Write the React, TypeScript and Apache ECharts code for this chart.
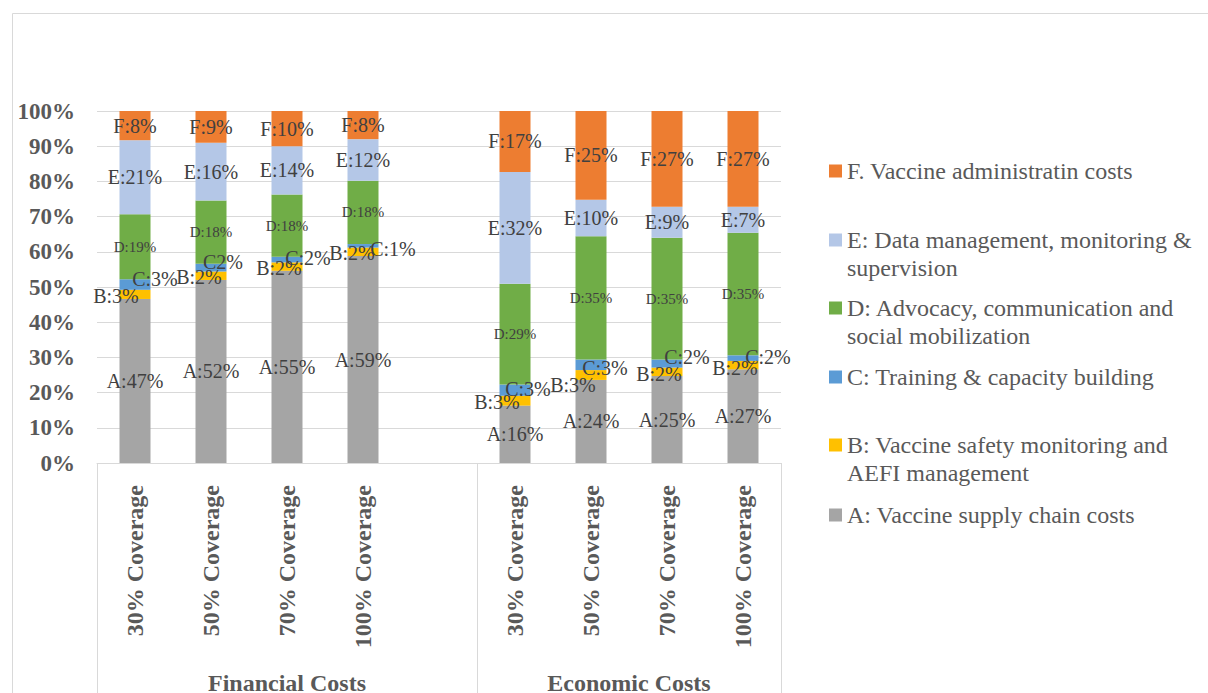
import React, { useEffect, useRef } from 'react';
import * as echarts from 'echarts';

// ---- data ----
const coverageLabels = ['30% Coverage', '50% Coverage', '70% Coverage', '100% Coverage', '', '30% Coverage', '50% Coverage', '70% Coverage', '100% Coverage'];
const groupKeys = ['fin', 'fin', 'fin', 'fin', 'gap', 'eco', 'eco', 'eco', 'eco'];
const groupLabels = ['Financial Costs', 'Economic Costs'];
const groupCenters = [2.5, 7];
const groupEdges = [0, 5, 9];

const seriesA = [46.6, 52.0, 54.6, 58.8, null, 16.3, 23.6, 24.7, 26.6];
const seriesB = [2.6, 2.4, 2.4, 2.4, null, 2.8, 2.8, 2.4, 2.4];
const seriesC = [3.0, 2.2, 1.6, 1.0, null, 3.2, 3.0, 2.3, 1.6];
const seriesD = [18.5, 18.0, 17.7, 18.0, null, 28.6, 35.0, 34.6, 34.8];
const seriesE = [21.0, 16.4, 13.7, 11.8, null, 31.8, 10.4, 8.8, 7.4];
const seriesF = [8.3, 9.0, 10.0, 8.0, null, 17.3, 25.2, 27.2, 27.2];

const seriesNames = [
  'A: Vaccine supply chain costs',
  'B: Vaccine safety monitoring and AEFI management',
  'C: Training & capacity building',
  'D: Advocacy, communication and social mobilization',
  'E: Data management, monitoring & supervision',
  'F. Vaccine administratin costs',
];
const seriesLetters = ['A', 'B', 'C', 'D', 'E', 'F'];
const legendText: Record<string, string> = {
  'A: Vaccine supply chain costs': 'A: Vaccine supply chain costs',
  'B: Vaccine safety monitoring and AEFI management': '\nB: Vaccine safety monitoring and\nAEFI management',
  'C: Training & capacity building': 'C: Training & capacity building',
  'D: Advocacy, communication and social mobilization': '\nD: Advocacy, communication and\nsocial mobilization',
  'E: Data management, monitoring & supervision': '\nE: Data management, monitoring &\nsupervision',
  'F. Vaccine administratin costs': 'F. Vaccine administratin costs',
};
const labelOverrides: Record<string, string> = { 'C-1': 'C2%' };

// label nudges (px) for the thin B and C segments
const bLabelShift = [[-19, 2], [-12, 1], [-8, 1], [-11, 1], [0, 0], [-18, 1], [-18, 10], [-8, 2], [-8, 3]];
const cLabelShift = [[20, -6], [12, -6], [21, -2], [30, 3], [0, 0], [13, -1], [14, 3], [20, -7], [25, -1]];

const colors = ['#A5A5A5', '#FFC000', '#5B9BD5', '#70AD47', '#B4C7E7', '#ED7D31'];

const FONT = '"Liberation Serif", "Times New Roman", serif';

export default function App() {
  const ref = useRef<HTMLDivElement>(null);
  useEffect(() => {
    if (!ref.current) return;
    const chart = echarts.init(ref.current, undefined, { renderer: 'svg' });
    const allValues = [seriesA, seriesB, seriesC, seriesD, seriesE, seriesF];
    const shifts: Record<number, number[][]> = { 1: bLabelShift, 2: cLabelShift };

    const series = allValues.map((vals, si) => ({
      name: seriesNames[si],
      type: 'bar',
      stack: 'total',
      barWidth: 31,
      itemStyle: { color: colors[si] },
      label: {
        show: true,
        position: 'inside',
        color: '#404040',
        fontFamily: FONT,
        fontSize: si === 3 ? 15 : 20,
        formatter: (p: any) => {
          const key = `${seriesLetters[si]}-${p.dataIndex}`;
          if (labelOverrides[key]) return labelOverrides[key];
          return `${seriesLetters[si]}:${Math.round(p.value)}%`;
        },
      },
      data: vals.map((v, i) => {
        if (v == null) return '-';
        const s = shifts[si];
        return s ? { value: v, label: { offset: s[i] } } : { value: v };
      }),
    }));

    const legendTops = [501, 403, 363, 266, 198, 157];
    const legends = seriesNames.map((name, i) => ({
      data: [name],
      left: 829,
      top: legendTops[i],
      padding: 0,
      icon: 'rect',
      itemWidth: 13,
      itemHeight: 13,
      selectedMode: false,
      formatter: (n: string) => legendText[n],
      textStyle: { fontFamily: FONT, fontSize: 24, color: '#595959', lineHeight: 28 },
    }));

    chart.setOption({
      animation: false,
      backgroundColor: '#ffffff',
      graphic: [
        {
          type: 'rect',
          shape: { x: 12.5, y: 13.5, width: 1400, height: 900 },
          style: { fill: 'none', stroke: '#d9d9d9', lineWidth: 1 },
          silent: true,
          z: -10,
        },
      ],
      grid: { left: 97, right: 427, top: 111, bottom: 230, containLabel: false, outerBoundsMode: 'none' },
      legend: legends,
      xAxis: [
        {
          type: 'category',
          data: coverageLabels.map((c, i) => `${groupKeys[i]}|${c}`),
          axisLine: { show: true, lineStyle: { color: '#d9d9d9', width: 1 } },
          axisTick: { show: false },
          axisLabel: {
            interval: 0,
            rotate: 90,
            margin: 22,
            fontFamily: FONT,
            fontSize: 24,
            fontWeight: 'bold',
            color: '#595959',
            formatter: (v: string) => v.split('|')[1],
          },
          splitLine: { show: false },
        },
        {
          type: 'value',
          position: 'bottom',
          min: 0,
          max: 9,
          axisLine: { show: false },
          axisTick: {
            show: true,
            length: 240,
            customValues: groupEdges,
            lineStyle: { color: '#d9d9d9', width: 1 },
          },
          axisLabel: {
            show: true,
            customValues: groupCenters,
            margin: 208,
            fontFamily: FONT,
            fontSize: 24,
            fontWeight: 'bold',
            color: '#595959',
            formatter: (v: number) => groupLabels[groupCenters.indexOf(v)] ?? '',
          },
          splitLine: { show: false },
        },
      ],
      yAxis: {
        type: 'value',
        min: 0,
        max: 100,
        interval: 10,
        axisLine: { show: false },
        axisTick: { show: false },
        axisLabel: {
          formatter: '{value}%',
          margin: 22,
          fontFamily: FONT,
          fontSize: 23,
          fontWeight: 'bold',
          color: '#595959',
        },
        splitLine: { show: true, lineStyle: { color: '#d9d9d9', width: 1 } },
      },
      series,
    });
    return () => chart.dispose();
  }, []);
  return (
    <div
      ref={ref}
      style={{ position: 'fixed', left: 0, top: 0, width: 1208, height: 693, background: '#fff' }}
    />
  );
}
